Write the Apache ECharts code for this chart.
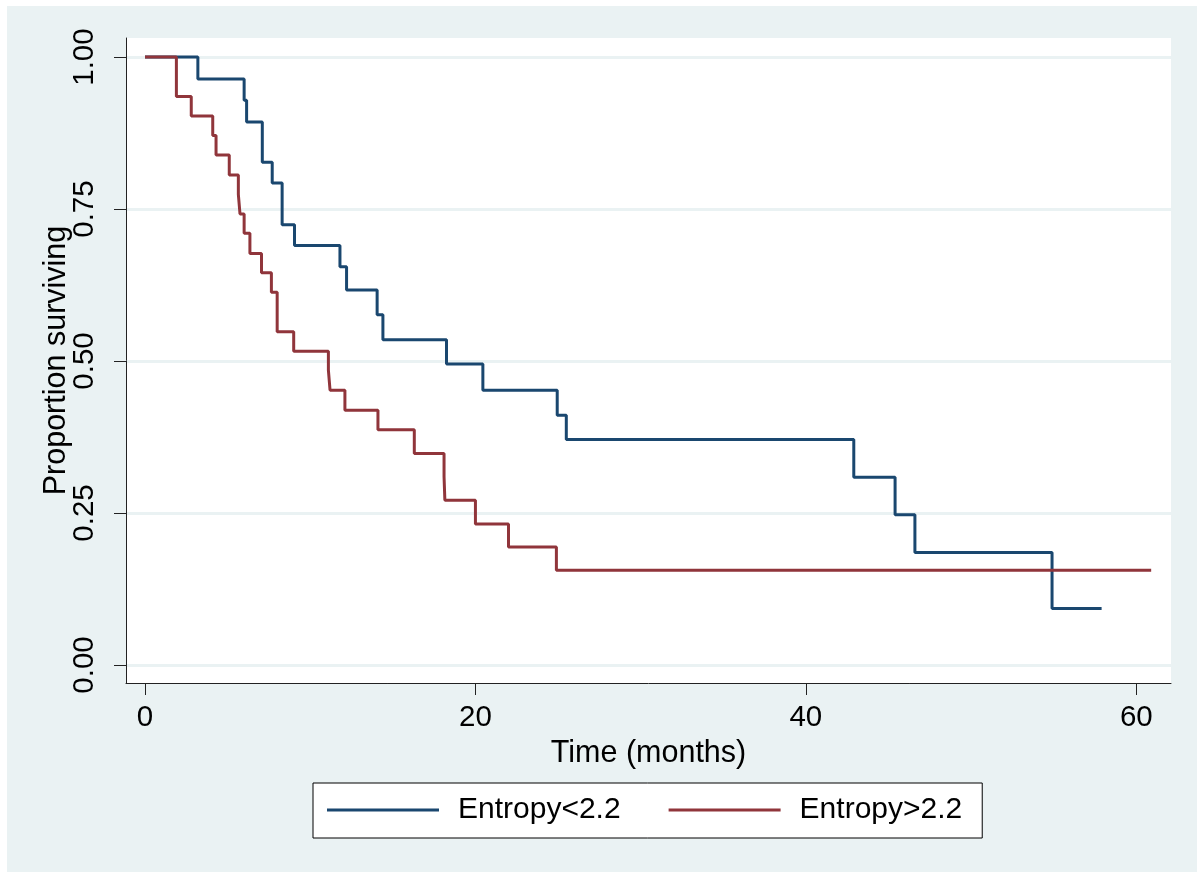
<!DOCTYPE html>
<html>
<head>
<meta charset="utf-8">
<script src="https://cdn.jsdelivr.net/npm/echarts@6/dist/echarts.min.js"></script>
<style>
  html, body { margin: 0; padding: 0; background: #fff; }
  #km { position: absolute; left: 7px; top: 6px; width: 1190px; height: 866px; }
</style>
</head>
<body>
<div id="km"></div>
<script>
// Kaplan-Meier steps
const lowTime = [0, 3.2, 6.0, 6.15, 7.1, 7.7, 8.3, 9.05, 11.8, 12.2, 14.05, 14.4, 18.25, 20.45, 24.95, 25.5, 42.9, 45.4, 46.6, 54.9, 57.9];
const lowSurv = [1, 0.964, 0.929, 0.893, 0.827, 0.793, 0.724, 0.690, 0.655, 0.617, 0.576, 0.535, 0.495, 0.452, 0.411, 0.371, 0.309, 0.247, 0.185, 0.093, 0.093];

const highTime = [0, 1.9, 2.8, 4.1, 4.3, 5.1, 5.65, 5.75, 6.0, 6.35, 7.05, 7.65, 8.0, 9.0, 11.1, 11.2, 12.1, 14.1, 16.3, 18.1, 18.15, 20.0, 22.0, 24.9, 60.9];
const highSurv = [1, 0.935, 0.903, 0.871, 0.839, 0.806, 0.774, 0.742, 0.710, 0.677, 0.645, 0.613, 0.548, 0.516, 0.485, 0.452, 0.419, 0.387, 0.348, 0.310, 0.271, 0.232, 0.194, 0.156, 0.156];

const xTicks = [0, 20, 40, 60];
const yTicks = [0, 0.25, 0.5, 0.75, 1];
const groupNames = ['Entropy<2.2', 'Entropy>2.2'];

const font = 'Liberation Sans, Arial, sans-serif';
const chart = echarts.init(document.getElementById('km'));

const option = {
  backgroundColor: '#EAF2F3',
  animation: false,
  grid: {
    left: 119, right: 26, top: 32, bottom: 189,
    show: true, backgroundColor: '#fff', borderWidth: 0
  },
  legend: {
    left: 306, top: 777,
    orient: 'horizontal',
    backgroundColor: '#fff',
    borderColor: '#000', borderWidth: 1, borderRadius: 0,
    padding: [12, 20, 13, 14],
    itemWidth: 112, itemHeight: 3, itemGap: 48,
    icon: 'rect',
    textStyle: { fontFamily: font, fontSize: 30, color: '#000', padding: [0, 0, 0, 14] },
    data: groupNames
  },
  xAxis: {
    type: 'value',
    min: -1.15, max: 62.1,
    name: 'Time (months)',
    nameLocation: 'middle', nameGap: 52,
    nameTextStyle: { fontFamily: font, fontSize: 30.5, color: '#000' },
    axisLine: { show: true, onZero: false, lineStyle: { color: '#222', width: 1 } },
    axisTick: { show: true, inside: false, length: 12, customValues: xTicks, lineStyle: { color: '#222' } },
    axisLabel: { customValues: xTicks, margin: 20, fontFamily: font, fontSize: 29.5, color: '#000' },
    splitLine: { show: false }
  },
  yAxis: {
    type: 'value',
    min: -0.0296, max: 1.0313,
    name: 'Proportion surviving',
    nameLocation: 'middle', nameGap: 54, nameRotate: 90,
    nameMoveOverlap: false,
    nameTextStyle: { fontFamily: font, fontSize: 30.5, color: '#000' },
    axisLine: { show: true, onZero: false, lineStyle: { color: '#222', width: 1 } },
    axisTick: { show: true, inside: false, length: 12, customValues: yTicks, lineStyle: { color: '#222' } },
    axisLabel: {
      customValues: yTicks, rotate: 90, margin: 26,
      fontFamily: font, fontSize: 29.5, color: '#000',
      formatter: v => v.toFixed(2)
    },
    splitLine: { show: true, lineStyle: { color: '#EAF2F3', width: 3 } }
  },
  series: [
    {
      name: groupNames[0],
      type: 'line', step: 'end', showSymbol: false,
      lineStyle: { color: '#1A476F', width: 3 },
      itemStyle: { color: '#1A476F' },
      data: lowTime.map((t, i) => [t, lowSurv[i]])
    },
    {
      name: groupNames[1],
      type: 'line', step: 'end', showSymbol: false,
      lineStyle: { color: '#90353B', width: 3 },
      itemStyle: { color: '#90353B' },
      data: highTime.map((t, i) => [t, highSurv[i]])
    }
  ]
};

chart.setOption(option);
</script>
</body>
</html>
